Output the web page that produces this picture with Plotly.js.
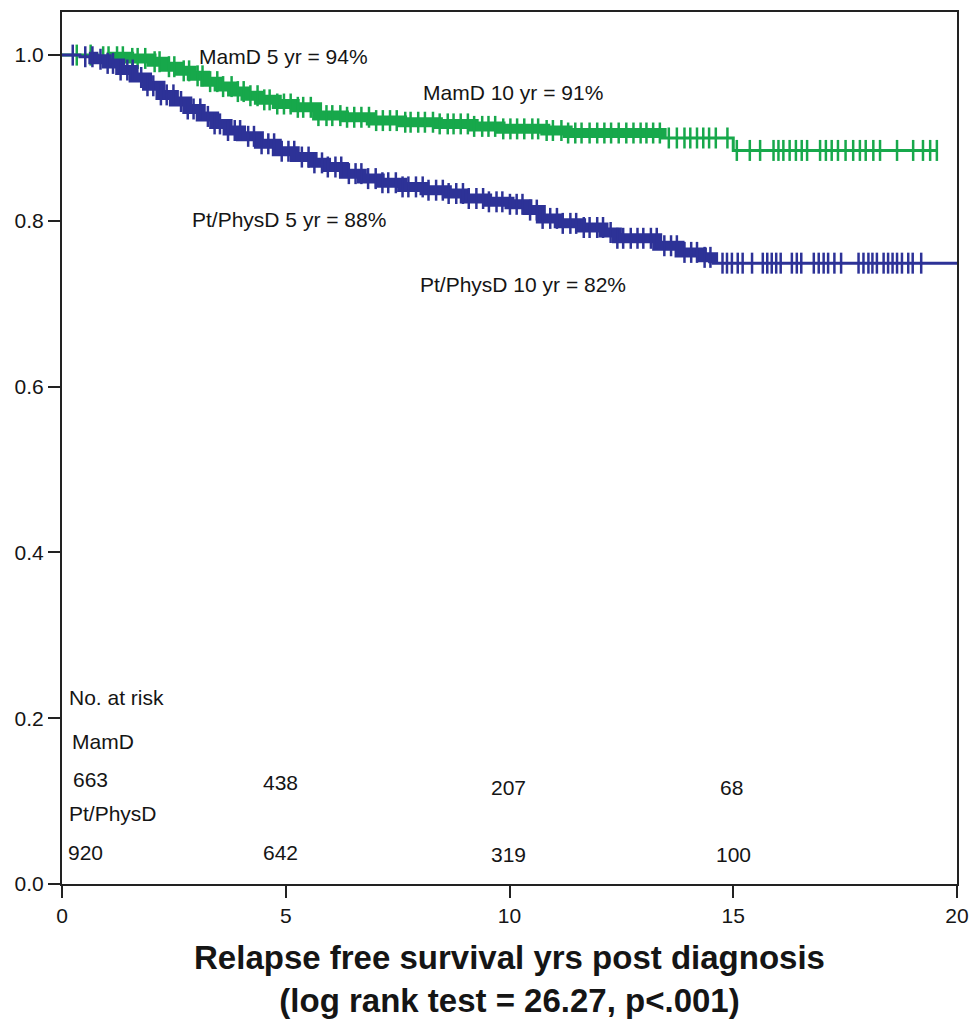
<!DOCTYPE html>
<html>
<head>
<meta charset="utf-8">
<script src="https://cdn.plot.ly/plotly-3.0.1.min.js"></script>
<style>
  html, body { margin: 0; padding: 0; background: #ffffff; }
  #chart { width: 972px; height: 1019px; }
</style>
</head>
<body>
<div id="chart"></div>
<script>
// Kaplan-Meier relapse-free survival, two detection groups

// MamD (mammographically detected): event times (yrs) and survival after each step
const mamdEventTimes = [0, 0.8, 1.5, 2.0, 2.3, 2.6, 2.9, 3.2, 3.5, 3.8, 4.1, 4.4, 4.8, 5.2, 5.7, 6.3, 6.9, 7.6, 8.4, 9.2, 9.8, 10.8, 11.3, 13.4, 15.0];
const mamdSurvival   = [1.0, 0.998, 0.996, 0.992, 0.986, 0.981, 0.975, 0.968, 0.962, 0.956, 0.951, 0.946, 0.941, 0.937, 0.927, 0.925, 0.921, 0.919, 0.917, 0.914, 0.911, 0.909, 0.906, 0.900, 0.885];
const mamdLastFollowUp = 19.55;
const mamdCensored = [0.33, 0.64, 0.92, 1.04, 1.23, 1.36, 1.57, 1.69, 1.86, 2.07, 2.18, 2.39, 2.51, 2.72, 2.84, 3.03, 3.14, 3.31, 3.47, 3.6, 3.79, 3.93, 4.06, 4.21, 4.37, 4.52, 4.64, 4.81, 4.96, 5.11, 5.27, 5.39, 5.56, 5.73, 5.91, 6.04, 6.22, 6.37, 6.53, 6.69, 6.86, 7.02, 7.17, 7.33, 7.48, 7.67, 7.79, 7.96, 8.11, 8.29, 8.44, 8.62, 8.75, 8.91, 9.07, 9.21, 9.39, 9.53, 9.68, 9.86, 10.02, 10.17, 10.33, 10.51, 10.64, 10.83, 10.97, 11.16, 11.31, 11.47, 11.61, 11.79, 11.96, 12.12, 12.27, 12.44, 12.61, 12.77, 12.93, 13.06, 13.21, 13.36, 13.56, 13.74, 13.91, 14.04, 14.19, 14.33, 14.46, 14.61, 14.87, 15.08, 15.37, 15.6, 15.9, 16.01, 16.12, 16.26, 16.4, 16.53, 16.65, 16.94, 17.07, 17.2, 17.34, 17.51, 17.68, 17.83, 17.96, 18.13, 18.28, 18.66, 19.02, 19.24, 19.4, 19.55];

// Pt/PhysD (patient or physician detected)
const physEventTimes = [0, 0.4, 0.7, 1.0, 1.3, 1.6, 1.9, 2.2, 2.5, 2.8, 3.1, 3.4, 3.7, 4.0, 4.4, 4.8, 5.2, 5.6, 5.9, 6.3, 6.7, 7.1, 7.6, 8.1, 8.6, 9.0, 9.5, 10.0, 10.4, 10.7, 11.1, 11.6, 12.1, 12.4, 13.3, 13.8, 14.3, 14.55];
const physSurvival   = [1.0, 0.998, 0.995, 0.990, 0.982, 0.973, 0.963, 0.952, 0.944, 0.935, 0.926, 0.917, 0.909, 0.902, 0.893, 0.884, 0.877, 0.870, 0.865, 0.857, 0.851, 0.846, 0.841, 0.837, 0.833, 0.827, 0.823, 0.820, 0.813, 0.803, 0.797, 0.792, 0.786, 0.779, 0.770, 0.762, 0.756, 0.749];
const physLastFollowUp = 20;
const physCensored = [0.24, 0.52, 0.68, 0.86, 1.02, 1.14, 1.31, 1.46, 1.58, 1.77, 1.91, 2.04, 2.21, 2.34, 2.49, 2.66, 2.81, 2.94, 3.09, 3.26, 3.41, 3.53, 3.71, 3.86, 3.98, 4.16, 4.29, 4.46, 4.61, 4.74, 4.91, 5.06, 5.19, 5.36, 5.51, 5.64, 5.81, 5.94, 6.11, 6.24, 6.41, 6.56, 6.69, 6.84, 7.01, 7.16, 7.29, 7.46, 7.61, 7.74, 7.91, 8.06, 8.19, 8.36, 8.51, 8.64, 8.81, 8.96, 9.09, 9.26, 9.41, 9.54, 9.71, 9.84, 10.01, 10.16, 10.29, 10.46, 10.61, 10.74, 10.91, 11.06, 11.19, 11.36, 11.49, 11.66, 11.79, 11.96, 12.09, 12.26, 12.41, 12.54, 12.71, 12.86, 12.99, 13.16, 13.29, 13.46, 13.61, 13.74, 13.91, 14.06, 14.19, 14.36, 14.49, 14.76, 14.86, 14.97, 15.1, 15.21, 15.42, 15.66, 15.76, 15.86, 15.96, 16.06, 16.31, 16.42, 16.52, 16.8, 16.91, 17.02, 17.12, 17.26, 17.41, 17.8, 17.91, 18.02, 18.11, 18.21, 18.36, 18.46, 18.56, 18.66, 18.77, 18.91, 19.01, 19.2];

// Numbers at risk
const riskYears = [0, 5, 10, 15];
const mamdAtRisk = [663, 438, 207, 68];
const physAtRisk = [920, 642, 319, 100];

// Survival labels at 5 and 10 years
const survivalLabels = [
  'MamD 5 yr = 94%',
  'MamD 10 yr = 91%',
  'Pt/PhysD 5 yr = 88%',
  'Pt/PhysD 10 yr = 82%'
];

const xTitle = 'Relapse free survival yrs post diagnosis<br>(log rank test = 26.27, p&lt;.001)';

// ---- drawing helpers ----
const GREEN = '#17a84b';
const BLUE = '#2d3297';
const INK = '#151515';
const FONT = 'Arial, "Liberation Sans", Helvetica, sans-serif';

// survival value of a step function at time t
function survAt(times, surv, t) {
  let s = surv[0];
  for (let i = 0; i < times.length; i++) {
    if (times[i] <= t) s = surv[i];
  }
  return s;
}

// step curve limited to [t0, t1]
function stepCurve(times, surv, t0, t1) {
  const xs = [t0], ys = [survAt(times, surv, t0)];
  for (let i = 0; i < times.length; i++) {
    if (times[i] > t0 && times[i] < t1) { xs.push(times[i]); ys.push(surv[i]); }
  }
  xs.push(t1); ys.push(survAt(times, surv, t1));
  return { x: xs, y: ys };
}

function curveTraces(times, surv, lastT, censored, color, denseFrom, denseTo, name) {
  const full = stepCurve(times, surv, 0, lastT);
  const dense = stepCurve(times, surv, denseFrom, denseTo);
  return [
    { type: 'scatter', mode: 'lines', name: name, x: full.x, y: full.y,
      line: { shape: 'hv', color: color, width: 3 }, hoverinfo: 'skip' },
    { type: 'scatter', mode: 'lines', name: name, x: dense.x, y: dense.y,
      line: { shape: 'hv', color: color, width: 10 }, hoverinfo: 'skip' },
    { type: 'scatter', mode: 'markers', name: name + ' censored',
      x: censored, y: censored.map(t => survAt(times, surv, t)),
      marker: { symbol: 'line-ns', size: 15, color: color, line: { color: color, width: 2.5 } },
      hoverinfo: 'skip' }
  ];
}

const data = [].concat(
  curveTraces(mamdEventTimes, mamdSurvival, mamdLastFollowUp, mamdCensored, GREEN, 1.0, 13.4, 'MamD'),
  curveTraces(physEventTimes, physSurvival, physLastFollowUp, physCensored, BLUE, 0.6, 14.55, 'Pt/PhysD')
);

// ---- annotations ----
const annFont = { family: FONT, size: 21, color: INK };
const labelPos = [
  { x: 3.02, y: 0.998 },
  { x: 8.02, y: 0.955 },
  { x: 2.86, y: 0.802 },
  { x: 7.96, y: 0.723 }
];
const annotations = survivalLabels.map((t, i) => ({
  text: t, x: labelPos[i].x, y: labelPos[i].y, xref: 'x', yref: 'y',
  xanchor: 'left', yanchor: 'middle', showarrow: false, font: annFont
}));

annotations.push(
  { text: 'No. at risk', x: 0.12, y: 0.2256, xref: 'x', yref: 'y', xanchor: 'left', yanchor: 'middle', showarrow: false, font: annFont },
  { text: 'MamD', x: 0.17, y: 0.1725, xref: 'x', yref: 'y', xanchor: 'left', yanchor: 'middle', showarrow: false, font: annFont },
  { text: 'Pt/PhysD', x: 0.12, y: 0.0856, xref: 'x', yref: 'y', xanchor: 'left', yanchor: 'middle', showarrow: false, font: annFont }
);

// column placement of the at-risk counts (offsets from each year)
const riskShift = [0.2, -0.55, -0.46, -0.42];
const mamdRowY = [0.1255, 0.122, 0.117, 0.117];
const physRowY = [0.0386, 0.0386, 0.035, 0.035];
riskYears.forEach((yr, i) => {
  annotations.push({ text: String(mamdAtRisk[i]), x: yr + riskShift[i] + (i === 3 ? 0.08 : 0), y: mamdRowY[i],
    xref: 'x', yref: 'y', xanchor: 'left', yanchor: 'middle', showarrow: false, font: annFont });
  annotations.push({ text: String(physAtRisk[i]), x: yr + riskShift[i] - (i === 0 ? 0.1 : 0), y: physRowY[i],
    xref: 'x', yref: 'y', xanchor: 'left', yanchor: 'middle', showarrow: false, font: annFont });
});

const axisCommon = {
  showgrid: false, zeroline: false,
  showline: true, linecolor: '#222', linewidth: 2, mirror: true,
  ticks: 'outside', ticklen: 12, tickwidth: 2, tickcolor: '#222',
  tickfont: { family: FONT, size: 21, color: INK },
  fixedrange: true
};

const layout = {
  width: 972, height: 1019,
  margin: { l: 62, r: 15, t: 12, b: 135 },
  paper_bgcolor: '#ffffff', plot_bgcolor: '#ffffff',
  showlegend: false,
  xaxis: Object.assign({}, axisCommon, {
    range: [0, 20], tickvals: [0, 5, 10, 15, 20], ticktext: ['0', '5', '10', '15', '20'],
    title: { text: xTitle, font: { family: FONT, size: 33, color: INK, weight: 'bold' }, standoff: 20 }
  }),
  yaxis: Object.assign({}, axisCommon, {
    range: [0, 1.052], tickvals: [0, 0.2, 0.4, 0.6, 0.8, 1.0], tickformat: '.1f'
  }),
  annotations: annotations
};

Plotly.newPlot('chart', data, layout, { displayModeBar: false, staticPlot: true });
</script>
</body>
</html>
